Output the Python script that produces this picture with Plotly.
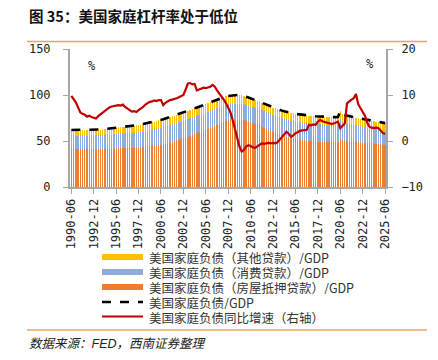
import plotly.graph_objects as go

# ---------------- data (quarterly, 1990-06 .. 2025-06) ----------------
quarter_labels = [f"{1990 + (i * 3 + 5) // 12}-{((i * 3 + 5) % 12) + 1:02d}" for i in range(141)]
tick_labels = ["1990-06", "1992-12", "1995-06", "1997-12", "2000-06", "2002-12", "2005-06",
               "2007-12", "2010-06", "2012-12", "2015-06", "2017-12", "2020-06", "2022-12", "2025-06"]

mortgage = [
    41.0, 41.0, 40.9, 41.1, 41.3, 41.5, 41.3, 41.3, 41.4, 41.6,
    41.5, 41.5, 41.5, 41.4, 41.4, 41.4, 41.3, 41.4, 41.5, 41.7,
    41.9, 42.1, 42.1, 42.2, 42.3, 42.3, 42.3, 42.5, 42.7, 42.8,
    42.9, 43.2, 43.4, 43.8, 44.1, 44.4, 44.6, 45.0, 45.2, 45.6,
    45.8, 46.5, 47.1, 47.8, 48.4, 49.2, 49.9, 50.7, 51.3, 52.1,
    52.8, 53.8, 54.8, 55.6, 56.6, 57.5, 58.4, 59.3, 60.2, 61.1,
    62.2, 63.3, 64.3, 65.4, 66.5, 67.6, 68.6, 69.7, 70.6, 71.3,
    71.9, 72.3, 72.7, 72.9, 73.2, 73.3, 73.1, 72.6, 72.0, 71.2,
    70.3, 69.6, 68.8, 68.0, 67.0, 65.7, 64.5, 63.2, 62.1, 61.0,
    59.7, 58.8, 57.9, 56.9, 56.0, 55.1, 54.4, 53.7, 53.2, 52.6,
    52.2, 51.8, 51.3, 51.0, 50.7, 50.5, 50.2, 49.9, 49.6, 49.4,
    49.2, 49.0, 48.9, 48.8, 48.7, 48.6, 48.5, 48.5, 48.4, 48.5,
    52.5, 50.8, 50.2, 49.8, 49.3, 49.2, 49.1, 49.1, 48.9, 48.6,
    48.3, 47.8, 47.6, 47.5, 47.3, 47.0, 46.6, 46.4, 46.0, 45.7,
    45.4,
]
consumer = [
    15.0, 15.0, 14.9, 14.8, 14.7, 14.6, 14.5, 14.4, 14.4, 14.4,
    14.5, 14.6, 14.7, 14.8, 15.0, 15.1, 15.3, 15.4, 15.5, 15.5,
    15.5, 15.6, 15.7, 15.8, 15.9, 16.0, 16.1, 16.2, 16.3, 16.4,
    16.5, 16.7, 16.9, 17.1, 17.3, 17.5, 17.7, 17.9, 18.1, 18.3,
    18.5, 18.6, 18.7, 18.8, 18.9, 19.0, 19.0, 19.0, 19.0, 19.0,
    19.0, 19.0, 18.9, 18.9, 18.8, 18.8, 18.7, 18.7, 18.6, 18.6,
    18.5, 18.4, 18.3, 18.2, 18.1, 18.0, 17.9, 17.8, 17.7, 17.6,
    17.5, 17.5, 17.4, 17.4, 17.3, 17.3, 17.2, 17.2, 17.1, 17.1,
    17.0, 17.1, 17.2, 17.3, 17.4, 17.6, 17.7, 17.9, 18.0, 18.2,
    18.5, 18.6, 18.7, 18.8, 18.9, 19.0, 19.0, 19.0, 19.0, 19.0,
    19.0, 19.0, 19.0, 19.0, 19.0, 19.0, 19.0, 19.0, 19.0, 19.0,
    19.0, 19.0, 19.0, 19.0, 19.0, 19.0, 19.0, 19.0, 19.0, 19.0,
    21.0, 19.5, 19.2, 18.9, 18.7, 18.5, 18.2, 17.9, 17.6, 17.3,
    17.0, 16.9, 16.7, 16.5, 16.4, 16.2, 16.1, 15.9, 15.8, 15.6,
    15.5,
]
other = [
    6.0, 6.0, 6.0, 6.0, 6.0, 6.0, 6.0, 6.0, 6.0, 6.0,
    6.0, 6.1, 6.2, 6.3, 6.4, 6.5, 6.6, 6.7, 6.8, 6.9,
    7.0, 7.1, 7.2, 7.3, 7.4, 7.5, 7.6, 7.7, 7.8, 7.9,
    8.0, 8.0, 8.1, 8.1, 8.2, 8.2, 8.3, 8.3, 8.4, 8.4,
    8.5, 8.5, 8.6, 8.6, 8.7, 8.7, 8.8, 8.8, 8.9, 8.9,
    9.0, 9.0, 9.0, 9.1, 9.1, 9.1, 9.2, 9.2, 9.2, 9.3,
    9.3, 9.3, 9.4, 9.4, 9.4, 9.4, 9.5, 9.5, 9.5, 9.5,
    9.5, 9.5, 9.5, 9.5, 9.5, 9.4, 9.3, 9.2, 9.1, 9.0,
    9.0, 8.9, 8.8, 8.7, 8.6, 8.5, 8.4, 8.3, 8.2, 8.1,
    8.0, 8.0, 8.0, 8.1, 8.1, 8.2, 8.2, 8.3, 8.3, 8.4,
    8.4, 8.4, 8.5, 8.5, 8.5, 8.5, 8.5, 8.5, 8.5, 8.5,
    8.5, 8.5, 8.5, 8.5, 8.5, 8.5, 8.5, 8.5, 8.5, 8.5,
    9.5, 9.0, 8.8, 8.7, 8.6, 8.5, 8.5, 8.5, 8.5, 8.5,
    8.5, 8.5, 8.5, 8.5, 8.5, 8.5, 8.5, 8.5, 8.5, 8.5,
    8.5,
]
total = [
    62.0, 62.0, 61.8, 61.9, 62.0, 62.1, 61.8, 61.7, 61.8, 62.0,
    62.0, 62.2, 62.4, 62.5, 62.8, 63.0, 63.2, 63.5, 63.8, 64.1,
    64.4, 64.8, 65.0, 65.3, 65.6, 65.8, 66.0, 66.4, 66.8, 67.1,
    67.4, 67.9, 68.4, 69.0, 69.6, 70.1, 70.6, 71.2, 71.7, 72.3,
    72.8, 73.6, 74.4, 75.2, 76.0, 76.9, 77.7, 78.5, 79.2, 80.0,
    80.8, 81.8, 82.7, 83.6, 84.5, 85.4, 86.3, 87.2, 88.0, 89.0,
    90.0, 91.0, 92.0, 93.0, 94.0, 95.0, 96.0, 97.0, 97.8, 98.4,
    98.9, 99.3, 99.6, 99.8, 100.0, 100.0, 99.6, 99.0, 98.2, 97.3,
    96.3, 95.6, 94.8, 94.0, 93.0, 91.8, 90.6, 89.4, 88.3, 87.3,
    86.2, 85.4, 84.6, 83.8, 83.0, 82.3, 81.6, 81.0, 80.5, 80.0,
    79.6, 79.2, 78.8, 78.5, 78.2, 78.0, 77.7, 77.4, 77.1, 76.9,
    76.7, 76.5, 76.4, 76.3, 76.2, 76.1, 76.0, 76.0, 75.9, 76.0,
    83.0, 79.3, 78.2, 77.4, 76.6, 76.2, 75.8, 75.5, 75.0, 74.4,
    73.8, 73.2, 72.8, 72.5, 72.2, 71.7, 71.2, 70.8, 70.3, 69.8,
    69.4,
]
growth = [
    9.8, 9.2, 8.4, 7.3, 6.2, 5.9, 5.7, 5.3, 5.5, 5.2,
    5.0, 4.9, 5.4, 5.8, 6.3, 6.7, 7.0, 7.3, 7.5, 7.6,
    7.8, 7.8, 7.7, 7.9, 7.4, 7.0, 6.7, 6.4, 6.5, 6.3,
    6.7, 7.0, 7.4, 7.9, 8.2, 8.5, 8.6, 8.8, 8.7, 8.9,
    8.9, 7.8, 8.3, 8.7, 8.9, 9.0, 9.1, 9.3, 9.5, 9.8,
    10.0, 11.2, 12.5, 12.6, 12.3, 12.4, 11.0, 11.2, 11.4, 11.6,
    11.5, 11.7, 11.8, 12.2, 11.8, 11.0, 10.4, 9.8, 9.0, 8.2,
    7.3, 6.2, 4.5, 2.5, 0.5, -1.2, -2.3, -1.9, -1.2, -0.9,
    -1.1, -1.4, -1.5, -1.1, -0.8, -0.5, -0.6, -0.5, -0.4, -0.5,
    -0.4, -0.5, -0.3, 0.3, 0.9, 1.5, 2.0, 1.6, 0.9, 1.2,
    1.7, 1.9, 2.2, 2.3, 2.4, 2.4, 3.5, 3.4, 3.6, 3.5,
    4.2, 4.6, 4.3, 4.1, 4.0, 3.9, 3.7, 3.8, 4.0, 4.2,
    2.8, 3.4, 3.8, 8.2, 8.7, 9.0, 9.3, 10.2, 8.0, 7.2,
    6.5, 5.5, 4.0, 3.1, 2.9, 2.8, 2.9, 2.8, 2.3, 1.7,
    1.5,
]

names = {
    "other": "美国家庭负债（其他贷款）/GDP",
    "consumer": "美国家庭负债（消费贷款）/GDP",
    "mortgage": "美国家庭负债（房屋抵押贷款）/GDP",
    "total": "美国家庭负债/GDP",
    "growth": "美国家庭负债同比增速（右轴）",
}
colors = {"other": "#FFC000", "consumer": "#8FAADC", "mortgage": "#ED7D31",
          "total": "#000000", "growth": "#C00000"}

x = list(range(len(total)))
tick_pos = [x[quarter_labels.index(t)] for t in tick_labels]

fig = go.Figure()
for key, vals in (("mortgage", mortgage), ("consumer", consumer), ("other", other)):
    fig.add_trace(go.Bar(x=x, y=vals, name=names[key], marker=dict(color=colors[key], line_width=0),
                         showlegend=False))
fig.add_trace(go.Scatter(x=x, y=total, name=names["total"], mode="lines",
                         line=dict(color="#000000", width=2.6, dash="dash"), showlegend=False))
fig.add_trace(go.Scatter(x=x, y=growth, name=names["growth"], mode="lines", yaxis="y2",
                         line=dict(color=colors["growth"], width=2.2), showlegend=False))

axis_font = dict(family="DejaVu Sans Mono", size=12, color="#222222")
fig.update_layout(
    width=438, height=360,
    margin=dict(l=70, r=52, t=49, b=173, pad=0, autoexpand=False),
    paper_bgcolor="white", plot_bgcolor="white",
    barmode="stack", bargap=0.4,
    showlegend=False,
    xaxis=dict(range=[-0.6, 140.4], tickmode="array", tickvals=tick_pos, ticktext=tick_labels,
               tickangle=-90, tickfont=axis_font, showgrid=False, zeroline=False, automargin=False,
               showline=True, linecolor="#A6A6A6", linewidth=2, ticks="outside",
               ticklen=5, tickcolor="#A6A6A6", tickwidth=1),
    yaxis=dict(range=[0, 150], tickmode="array", tickvals=[0, 50, 100, 150], tickfont=axis_font,
               showgrid=False, zeroline=False, showline=True, linecolor="#A6A6A6", linewidth=2,
               automargin=False,
               ticks="outside", ticklen=5, tickcolor="#A6A6A6", tickwidth=1, ticklabelstandoff=10),
    yaxis2=dict(range=[-10, 20], tickmode="array", tickvals=[-10, 0, 10, 20], tickfont=axis_font,
                overlaying="y", side="right", showgrid=False, zeroline=False, showline=True,
                automargin=False,
                linecolor="#A6A6A6", linewidth=2, ticks="outside", ticklen=5, tickcolor="#A6A6A6",
                tickwidth=1, ticklabelstandoff=6),
)

W_PLOT, H_PLOT, L0, B0 = 316.0, 138.0, 70.0, 187.0
def px(xp):
    return (xp - L0) / W_PLOT
def py(yp):
    return (B0 - yp) / H_PLOT

cjk = "Noto Sans CJK SC"
shapes = []
annotations = []
# title and rules
annotations.append(dict(x=px(27), y=py(15), xref="paper", yref="paper", xanchor="left", yanchor="middle",
                        text="<b>图 35：美国家庭杠杆率处于低位</b>", showarrow=False,
                        font=dict(family=cjk, size=14.5, color="#111111")))
for yline in (41.5, 330):
    shapes.append(dict(type="line", xref="paper", yref="paper", x0=px(27), x1=px(427),
                       y0=py(yline), y1=py(yline), line=dict(color="#E2A85C", width=1.5)))
annotations.append(dict(x=px(27), y=py(344), xref="paper", yref="paper", xanchor="left", yanchor="middle",
                        text="<i>数据来源：FED，西南证券整理</i>", showarrow=False,
                        font=dict(family="Liberation Sans, " + cjk, size=12.5, color="#222222")))
# percent labels
annotations.append(dict(x=px(86), y=py(57), xref="paper", yref="paper", text="%", showarrow=False,
                        font=dict(family="DejaVu Sans Mono", size=12, color="#222222")))
annotations.append(dict(x=px(376), y=py(55), xref="paper", yref="paper", text="%", showarrow=False,
                        font=dict(family="DejaVu Sans Mono", size=12, color="#222222")))
# manual legend
legend_rows = [("other", 257), ("consumer", 272), ("mortgage", 287), ("total", 302), ("growth", 316.5)]
for key, yrow in legend_rows:
    if key in ("other", "consumer", "mortgage"):
        shapes.append(dict(type="rect", xref="paper", yref="paper", x0=px(102), x1=px(143),
                           y0=py(yrow - 3), y1=py(yrow + 3), fillcolor=colors[key], line_width=0))
    elif key == "total":
        shapes.append(dict(type="line", xref="paper", yref="paper", x0=px(102), x1=px(143),
                           y0=py(yrow), y1=py(yrow), line=dict(color="#000000", width=2.5, dash="dash")))
    else:
        shapes.append(dict(type="line", xref="paper", yref="paper", x0=px(102), x1=px(143),
                           y0=py(yrow), y1=py(yrow), line=dict(color=colors[key], width=2.2)))
    annotations.append(dict(x=px(147), y=py(yrow), xref="paper", yref="paper", xanchor="left",
                            yanchor="middle", text=names[key], showarrow=False, height=14,
                            font=dict(family=cjk, size=12.5, color="#333333")))

fig.update_layout(shapes=shapes, annotations=annotations)
fig.write_html("out.html", config={"displayModeBar": False, "staticPlot": True},
               post_script="document.body.style.margin='0';document.body.style.padding='0';")
